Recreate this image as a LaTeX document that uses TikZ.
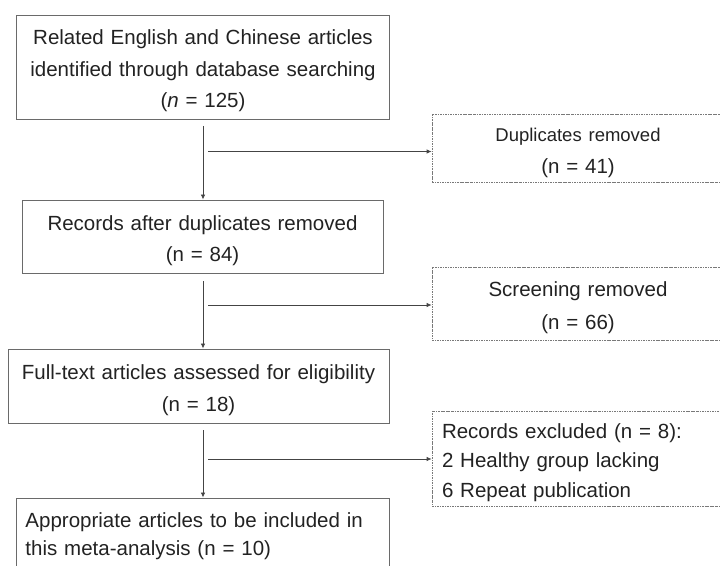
\documentclass[tikz,border=0pt]{standalone}
\usepackage{fontspec}
\setmainfont{Liberation Sans}
\usetikzlibrary{arrows.meta}
\definecolor{txtgray}{HTML}{222222}
\definecolor{boxgray}{HTML}{6A6A6A}
\definecolor{arrgray}{HTML}{444444}
\begin{document}
\begin{tikzpicture}[x=1bp,y=-1bp,
    box/.style={draw=boxgray, line width=0.9bp, text=txtgray, inner sep=0pt, text height=23bp,
        font=\fontsize{20.5bp}{31.5bp}\selectfont},
    rbox/.style={box, draw=boxgray!90, line width=0.7bp, dash pattern=on 2.2bp off 1bp on 0.7bp off 1bp},
    arr/.style={draw=arrgray, line width=0.8bp, -{Latex[length=5bp,width=4.5bp]}}]
\useasboundingbox (0,0) rectangle (720,566);
\clip (0,0) rectangle (720,566);

    \node[box, minimum width=373bp, minimum height=104bp, text width=355bp, align=center] (1) at (203,67) {Related English and Chinese articles\\identified through database searching\\(\textit{n} = 125)};
    \node[box, minimum width=361bp, minimum height=73bp, text width=345bp, align=center] (2) at (202.5,236.5) {Records after duplicates removed\\(n = 84)};
    \node[box, minimum width=381bp, minimum height=74bp, text width=367bp, align=center] (3) at (198.5,386) {Full-text articles assessed for eligibility\\(n = 18)};
    \node[box, minimum width=373bp, minimum height=80bp, text width=355bp, align=left, text depth=45bp,
        font=\fontsize{20.5bp}{28bp}\selectfont] (4) at (203,538) {Appropriate articles to be included in\\this meta-analysis (n = 10)};

    \node[rbox, minimum width=292bp, minimum height=68bp, text width=272bp, align=center] (d1) at (578,148) {{\fontsize{18.5bp}{31bp}\selectfont Duplicates removed}\\(n = 41)};
    \node[rbox, minimum width=292bp, minimum height=73bp, text width=272bp, align=center,
        font=\fontsize{20.5bp}{33bp}\selectfont] (d2) at (578,303.5) {Screening removed\\(n = 66)};
    \node[rbox, minimum width=292bp, minimum height=95bp, text width=272bp, align=left, text height=22.5bp,
        font=\fontsize{20.5bp}{29.5bp}\selectfont] (d3) at (578,458.5) {Records excluded (n = 8):\\2 Healthy group lacking\\6 Repeat publication};

    \coordinate (t1) at (203,126);
    \coordinate (t2) at (203,281);
    \coordinate (t3) at (203,430);
    \coordinate (h1) at (208,151.5);
    \coordinate (h2) at (208,305);
    \coordinate (h3) at (208,459);

\draw[arr] (t1) -- (t1 |- 2.north);
\draw[arr] (t2) -- (t2 |- 3.north);
\draw[arr] (t3) -- (t3 |- 4.north);
\draw[arr] (h1) -- (h1 -| d1.west);
\draw[arr] (h2) -- (h2 -| d2.west);
\draw[arr] (h3) -- (h3 -| d3.west);
\end{tikzpicture}
\end{document}
